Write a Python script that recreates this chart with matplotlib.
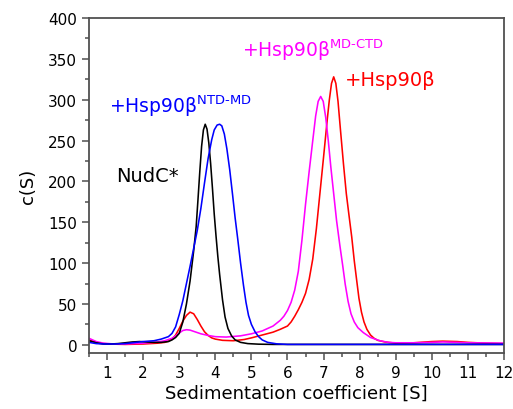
import matplotlib
matplotlib.use("Agg")
import matplotlib.pyplot as plt
from matplotlib.ticker import MultipleLocator

plt.rcParams['font.family'] = ['DejaVu Sans']

# c(S) distributions: sedimentation coefficient [S] vs c(S)
nudc_s = [0.5, 0.7, 0.9, 1.1, 1.3, 1.5, 1.7, 1.9, 2.1, 2.3, 2.5, 2.7, 2.8, 2.9,
          3.0, 3.1, 3.2, 3.3, 3.4, 3.47, 3.52, 3.57, 3.62, 3.67, 3.72, 3.77,
          3.82, 3.87, 3.92, 3.97, 4.02, 4.07, 4.12, 4.2, 4.27, 4.35, 4.45, 4.55,
          4.7, 4.9, 5.2, 5.6, 6.0, 8.0, 10.0, 12.0]
nudc_c = [5, 2.5, 1, 1, 1.5, 2.5, 3.5, 4, 3.5, 3, 3, 4, 6, 9,
          14, 28, 50, 78, 115, 145, 178, 212, 243, 263, 270, 264,
          247, 222, 192, 160, 133, 108, 86, 55, 34, 20, 11, 6,
          3, 1.5, 0.8, 0.5, 0.5, 0.5, 0.5, 0.5]

ntd_md_s = [0.5, 0.7, 0.9, 1.2, 1.5, 1.8, 2.0, 2.3, 2.5, 2.7, 2.8, 2.9, 3.0, 3.1,
            3.2, 3.3, 3.4, 3.5, 3.6, 3.7, 3.8, 3.9, 3.97, 4.05, 4.12, 4.18,
            4.25, 4.32, 4.4, 4.48, 4.55, 4.62, 4.7, 4.78, 4.85, 4.92, 5.0, 5.1,
            5.2, 5.3, 5.45, 5.7, 6.0, 8.0, 10.0, 12.0]
ntd_md_c = [3, 1.5, 1, 1, 1.5, 3, 4, 5, 7, 10, 14, 22, 37, 54,
            75, 96, 118, 140, 167, 198, 228, 251, 263, 269, 270, 268,
            258, 240, 214, 183, 155, 130, 100, 73, 52, 36, 25, 16,
            10, 6, 3, 1.2, 0.5, 0.5, 0.5, 0.5]

hsp90_s = [0.5, 0.7, 0.9, 1.2, 1.5, 2.0, 2.4, 2.6, 2.7, 2.8, 2.9, 3.0, 3.1, 3.2,
           3.3, 3.4, 3.5, 3.6, 3.7, 3.8, 3.9, 4.0, 4.2, 4.5, 4.8, 5.0, 5.3,
           5.6, 5.8, 6.0, 6.1, 6.2, 6.3, 6.4, 6.5, 6.6, 6.7, 6.8, 6.9, 7.0,
           7.1, 7.16, 7.22, 7.28, 7.34, 7.4, 7.47, 7.55, 7.63, 7.7, 7.78, 7.85,
           7.92, 7.98, 8.05, 8.12, 8.2, 8.3, 8.4, 8.5, 8.7, 9.0, 9.5, 10.0,
           10.3, 10.7, 11.0, 11.5, 12.0]
hsp90_c = [6, 3, 1.5, 0.8, 0.5, 1, 2, 3, 4.5, 7, 12, 20, 29, 36,
           40, 38, 31, 23, 16, 11.5, 8.5, 7, 5.5, 5, 6.5, 8.5, 12,
           15.5, 19, 23, 28, 35, 43, 52, 63, 80, 105, 142, 186, 230,
           275, 300, 320, 328, 320, 298, 262, 222, 185, 160, 132, 103,
           78, 57, 40, 28, 19, 12, 8, 5.5, 3.5, 2, 2.5, 4,
           4.5, 4, 3, 2, 1.5]

md_ctd_s = [0.5, 0.7, 0.9, 1.2, 1.5, 2.0, 2.4, 2.6, 2.8, 2.9, 3.0, 3.1, 3.2, 3.3,
            3.4, 3.5, 3.6, 3.8, 4.0, 4.3, 4.7, 5.0, 5.3, 5.6, 5.8, 5.9, 6.0,
            6.1, 6.2, 6.3, 6.4, 6.5, 6.6, 6.7, 6.78, 6.85, 6.92, 6.99, 7.06,
            7.13, 7.2, 7.28, 7.36, 7.45, 7.53, 7.6, 7.68, 7.76, 7.85, 7.95, 8.1,
            8.3, 8.56, 8.8, 9.0, 9.5, 10.0, 10.3, 10.7, 11.0, 12.0]
md_ctd_c = [8, 4, 2, 1, 1, 2, 3.5, 5, 8, 11, 14.5, 17.5, 18.5, 18,
            16.5, 15, 13.5, 11.5, 10, 9.5, 11, 13.5, 17, 23, 30, 35, 42,
            52, 67, 90, 128, 172, 212, 250, 280, 298, 304, 298, 278,
            250, 218, 185, 152, 122, 97, 74, 53, 38, 28, 21, 15,
            9, 5, 3, 2.5, 2.5, 3, 3.5, 3, 2.5, 2]

fig = plt.figure(figsize=(5.13, 4.10), dpi=100)
ax = fig.add_axes([0.1735, 0.1366, 0.809, 0.817])

lw = 1.15
ax.plot(hsp90_s, hsp90_c, color='#ff0000', lw=lw)
ax.plot(md_ctd_s, md_ctd_c, color='#ff00ff', lw=lw)
ax.plot(nudc_s, nudc_c, color='#000000', lw=lw)
ax.plot(ntd_md_s, ntd_md_c, color='#0000ff', lw=lw)

ax.set_xlim(0.5, 12)
ax.set_ylim(-10, 400)
ax.xaxis.set_major_locator(MultipleLocator(1))
ax.xaxis.set_minor_locator(MultipleLocator(0.5))
ax.yaxis.set_major_locator(MultipleLocator(50))
ax.yaxis.set_minor_locator(MultipleLocator(25))

for side in ['left', 'bottom', 'top', 'right']:
    ax.spines[side].set_color('#505050')
    ax.spines[side].set_linewidth(1.3)
ax.tick_params(which='both', direction='out', color='#505050', width=1.1,
               labelsize=11, top=False, right=False)
ax.tick_params(which='major', length=5)
ax.tick_params(which='minor', length=3)

ax.set_xlabel('Sedimentation coefficient [S]', fontsize=13, labelpad=3)
ax.set_ylabel('c(S)', fontsize=13, labelpad=8)

ax.text(1.05, 285, r'+Hsp90β$^{\mathregular{NTD\text{-}MD}}$', color='#0000ff',
        fontsize=13.5, ha='left', va='baseline')
ax.text(1.25, 201, 'NudC*', color='#000000', fontsize=14, ha='left', va='baseline')
ax.text(4.75, 353, r'+Hsp90β$^{\mathregular{MD\text{-}CTD}}$', color='#ff00ff',
        fontsize=13.5, ha='left', va='baseline')
ax.text(7.6, 318, '+Hsp90β', color='#ff0000', fontsize=14, ha='left', va='baseline')

fig.savefig('out.png', dpi=100)
